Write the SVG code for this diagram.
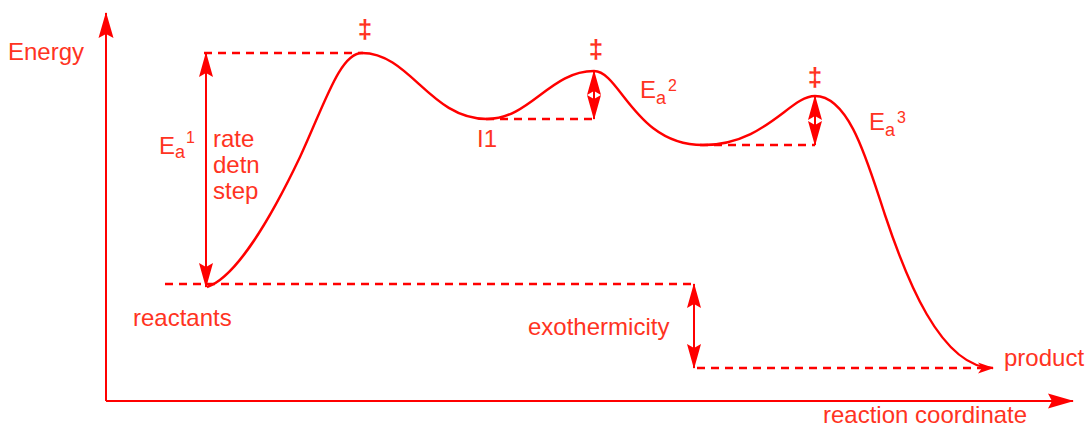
<svg xmlns="http://www.w3.org/2000/svg" width="1089" height="426" viewBox="0 0 1089 426">
  <style>
    .lbl { font-family: "Liberation Sans", Arial, Helvetica, sans-serif; font-size: 24px; fill: #ff3322; }
    .sub { font-size: 18px; }
    .sup { font-size: 16px; }
    .dag { font-size: 26px; font-weight: bold; }
    .ax { stroke: #ff0000; stroke-width: 2; fill: none; }
    .dash { stroke: #ff0000; stroke-width: 2.6; stroke-dasharray: 8 6; fill: none; }
    .curve { stroke: #ff0000; stroke-width: 2.4; fill: none; }
    .dbl { stroke: #ff0000; stroke-width: 2; fill: none; }
  </style>
  <defs>
    <marker id="axhead" markerUnits="userSpaceOnUse" markerWidth="30" markerHeight="20" viewBox="-27 -10 30 20" refX="0" refY="0" orient="auto-start-reverse">
      <path d="M1,0 L-25,-7.5 L-21,0 L-25,7.5 Z" fill="#ff0000"/>
    </marker>
    <marker id="dhead" markerUnits="userSpaceOnUse" markerWidth="30" markerHeight="20" viewBox="-27 -10 30 20" refX="0" refY="0" orient="auto-start-reverse">
      <path d="M1,0 L-24,-7 L-20,0 L-24,7 Z" fill="#ff0000"/>
    </marker>
    <marker id="chead" markerUnits="userSpaceOnUse" markerWidth="20" markerHeight="14" viewBox="-17 -7 20 14" refX="0" refY="0" orient="auto">
      <path d="M1,0 L-15,-5.5 L-11,0 L-15,5.5 Z" fill="#ff0000"/>
    </marker>
  </defs>

  <g id="axes">
    <line class="ax" x1="106" y1="401" x2="106" y2="13" marker-end="url(#axhead)"/>
    <line class="ax" x1="106" y1="401" x2="1073" y2="401" marker-end="url(#axhead)"/>
    <text class="lbl" x="8" y="60">Energy</text>
    <text class="lbl" x="823" y="423">reaction coordinate</text>
  </g>

  <g id="connectors">
    <line class="dash" x1="204" y1="53" x2="363" y2="53"/>
    <line class="dash" x1="165" y1="284" x2="696" y2="284"/>
    <line class="dash" x1="486" y1="119" x2="594" y2="119"/>
    <line class="dash" x1="700" y1="145" x2="815" y2="145"/>
    <line class="dash" x1="697" y1="368" x2="985" y2="368"/>
    <path class="curve" d="M207,287 C235,278 270,220 300,157 C325,103 340,53 362,53 C410,53 430,119 487,119 C530,119 550,71 594,71 C620,71 635,145 703,145 C765,145 790,96 815,96 C850,96 868,164 885,215 C905,275 940,368 993,368" marker-end="url(#chead)"/>
    <line class="dbl" x1="206" y1="53" x2="206" y2="287" marker-start="url(#dhead)" marker-end="url(#dhead)"/>
    <line class="dbl" x1="694" y1="284" x2="694" y2="368" marker-start="url(#dhead)" marker-end="url(#dhead)"/>
    <line class="dbl" x1="594" y1="71" x2="594" y2="119" marker-start="url(#dhead)" marker-end="url(#dhead)"/>
    <line class="dbl" x1="815" y1="96" x2="815" y2="145" marker-start="url(#dhead)" marker-end="url(#dhead)"/>
  </g>

  <g id="reactants">
    <text class="lbl" x="133" y="326">reactants</text>
  </g>
  <g id="ts1">
    <text class="lbl dag" x="365" y="38" text-anchor="middle">‡</text>
  </g>
  <g id="ea1">
    <text class="lbl" x="159" y="154">E<tspan class="sub" dy="4">a</tspan><tspan class="sup" dx="1" dy="-15">1</tspan></text>
    <text class="lbl" x="213" y="147">rate</text>
    <text class="lbl" x="213" y="173">detn</text>
    <text class="lbl" x="213" y="199">step</text>
  </g>
  <g id="i1">
    <text class="lbl" x="477" y="147">I1</text>
  </g>
  <g id="ts2">
    <text class="lbl dag" x="596" y="58" text-anchor="middle">‡</text>
  </g>
  <g id="ea2">
    <text class="lbl" x="640" y="98">E<tspan class="sub" dy="6">a</tspan><tspan class="sup" dx="2" dy="-13">2</tspan></text>
  </g>
  <g id="ts3">
    <text class="lbl dag" x="815" y="86" text-anchor="middle">‡</text>
  </g>
  <g id="ea3">
    <text class="lbl" x="869" y="130">E<tspan class="sub" dy="6">a</tspan><tspan class="sup" dx="2" dy="-13">3</tspan></text>
  </g>
  <g id="exothermicity">
    <text class="lbl" x="528" y="335">exothermicity</text>
  </g>
  <g id="product">
    <text class="lbl" x="1004" y="366">product</text>
  </g>
</svg>
